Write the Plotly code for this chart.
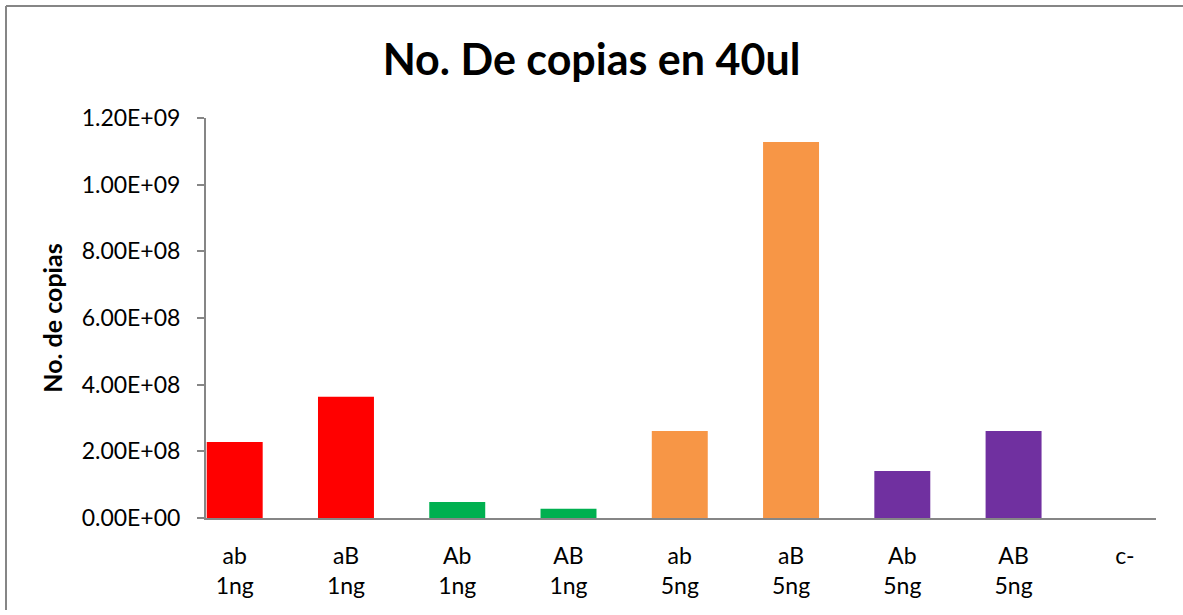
import plotly.graph_objects as go

categories = ["ab<br>1ng", "aB<br>1ng", "Ab<br>1ng", "AB<br>1ng",
              "ab<br>5ng", "aB<br>5ng", "Ab<br>5ng", "AB<br>5ng", "c-"]
values = [2.28e8, 3.64e8, 4.8e7, 2.8e7, 2.61e8, 1.128e9, 1.41e8, 2.61e8, 0]
colors = ["#FF0000", "#FF0000", "#00B050", "#00B050",
          "#F79646", "#F79646", "#7030A0", "#7030A0", "#7030A0"]
y_tickvals = [0, 2e8, 4e8, 6e8, 8e8, 1.0e9, 1.2e9]
y_ticktext = ["0.00E+00", "2.00E+08", "4.00E+08", "6.00E+08",
              "8.00E+08", "1.00E+09", "1.20E+09"]

AXIS = "#868686"
FONT = "Lato"
H = 610

fig = go.Figure(go.Bar(
    x=categories, y=values, marker=dict(color=colors, line=dict(width=0)),
    width=0.503,
))

fig.update_layout(
    width=1183, height=H,
    paper_bgcolor="white", plot_bgcolor="white",
    margin=dict(l=206, r=27, t=118, b=H - 518),
    showlegend=False,
    font=dict(family=FONT, color="black", size=23),
    title=dict(text="<b>No. De copias en 40ul</b>", x=0.5, xref="container",
               xanchor="center", y=1 - 60 / H, yref="container", yanchor="middle",
               font=dict(family=FONT, size=43, color="black")),
)

fig.update_xaxes(
    type="category", range=[-0.258, 8.28],
    showline=True, linecolor=AXIS, linewidth=2,
    ticks="", showgrid=False, zeroline=False,
    tickfont=dict(family=FONT, size=23, color="black"),
    ticklabelstandoff=16,
)
fig.update_yaxes(
    range=[0, 1.2e9], tickvals=y_tickvals, ticktext=y_ticktext,
    showline=True, linecolor=AXIS, linewidth=2,
    ticks="outside", ticklen=7, tickcolor=AXIS, tickwidth=2,
    showgrid=False, zeroline=False,
    tickfont=dict(family=FONT, size=23, color="black"),
    ticklabelstandoff=12,
    title=dict(text="<b>No. de copias</b>", standoff=12,
               font=dict(family=FONT, size=25, color="black")),
)

# outer chart border (left and top edges visible)
fig.add_shape(type="line", xref="paper", yref="paper",
              x0=(6 - 206) / 950, x1=(1183 - 206) / 950,
              y0=(518 - 6) / 400, y1=(518 - 6) / 400,
              line=dict(color=AXIS, width=2))
fig.add_shape(type="line", xref="paper", yref="paper",
              x0=(6 - 206) / 950, x1=(6 - 206) / 950,
              y0=(518 - 6) / 400, y1=(518 - H) / 400,
              line=dict(color=AXIS, width=2))

fig.write_html(
    "out.html", config={"displayModeBar": False},
    post_script=("document.documentElement.style.overflow='hidden';"
                 "document.body.style.margin='0';"
                 "document.body.style.overflow='hidden';"))
